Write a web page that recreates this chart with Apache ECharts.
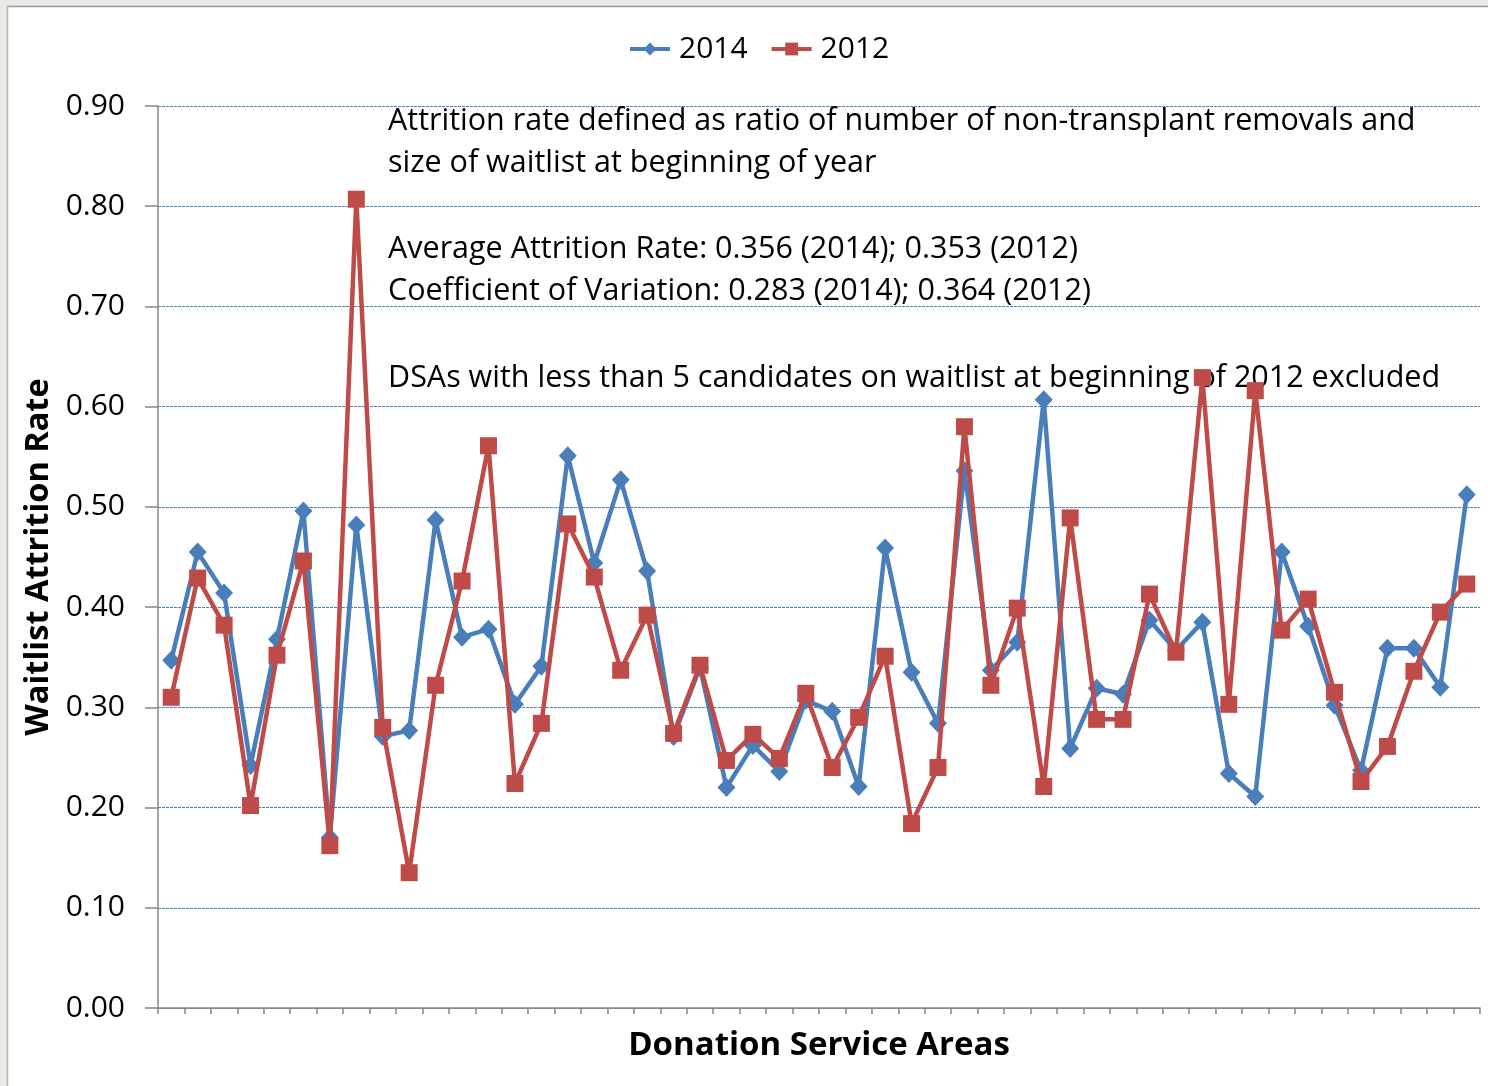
<!DOCTYPE html>
<html>
<head>
<meta charset="utf-8">
<script src="https://cdn.jsdelivr.net/npm/echarts@6/dist/echarts.min.js"></script>
<style>
html,body{margin:0;padding:0;background:#fff;}
#chart{width:1488px;height:1086px;}
</style>
</head>
<body>
<div id="chart"></div>
<script>
const categories = Array.from({length: 50}, (_, i) => 'DSA ' + (i + 1));
const series2014 = [0.347,0.455,0.414,0.242,0.368,0.496,0.170,0.482,0.271,0.277,
  0.487,0.370,0.378,0.303,0.341,0.551,0.444,0.527,0.436,0.271,
  0.340,0.220,0.262,0.236,0.307,0.296,0.221,0.459,0.335,0.284,
  0.536,0.337,0.365,0.607,0.259,0.319,0.313,0.387,0.357,0.385,
  0.234,0.211,0.455,0.381,0.302,0.237,0.359,0.359,0.320,0.512];
const series2012 = [0.310,0.429,0.382,0.202,0.352,0.446,0.162,0.807,0.280,0.135,
  0.322,0.426,0.561,0.224,0.284,0.483,0.430,0.337,0.392,0.274,
  0.342,0.247,0.273,0.249,0.314,0.240,0.290,0.351,0.184,0.240,
  0.580,0.322,0.399,0.221,0.489,0.288,0.288,0.413,0.355,0.629,
  0.303,0.616,0.377,0.408,0.315,0.226,0.261,0.336,0.395,0.423];
const yTicks = [0, 0.1, 0.2, 0.3, 0.4, 0.5, 0.6, 0.7, 0.8, 0.9];
const annotations = [
  'Attrition rate defined as ratio of number of non-transplant removals and',
  'size of waitlist at beginning of year',
  'Average Attrition Rate: 0.356 (2014); 0.353 (2012)',
  'Coefficient of Variation: 0.283 (2014); 0.364 (2012)',
  'DSAs with less than 5 candidates on waitlist at beginning of 2012 excluded'
];
const annotationY = [120, 162, 248, 290, 377];

const FONT = '"Open Sans", "Noto Sans", sans-serif';
const chart = echarts.init(document.getElementById('chart'), null, {renderer: 'canvas'});

const graphics = [
  {type: 'rect', shape: {x: 0, y: 0, width: 1488, height: 6}, style: {fill: '#ebe9e3'}, silent: true},
  {type: 'rect', shape: {x: 0, y: 0, width: 7, height: 1086}, style: {fill: '#ebe9e3'}, silent: true},
  {type: 'line', shape: {x1: 7, y1: 6.5, x2: 1488, y2: 6.5}, style: {stroke: '#9a9a9a', lineWidth: 1.5}, silent: true},
  {type: 'line', shape: {x1: 7.5, y1: 6, x2: 7.5, y2: 1086}, style: {stroke: '#b0b0b0', lineWidth: 1.5}, silent: true}
];
annotations.forEach((t, i) => {
  graphics.push({
    type: 'text', x: 388, y: annotationY[i] + 1, z: 1,
    style: {text: t, font: '30.5px ' + FONT, fill: '#000', textVerticalAlign: 'middle', verticalAlign: 'middle'}
  });
});

chart.setOption({
  animation: false,
  backgroundColor: '#ffffff',
  textStyle: {fontFamily: FONT},
  legend: {
    top: 29, left: 623,
    itemWidth: 40, itemHeight: 16, itemGap: 22,
    textStyle: {fontSize: 30, color: '#000', fontFamily: FONT, padding: [0, 0, 0, 4]},
    data: [
      {name: '2014', lineStyle: {width: 4}},
      {name: '2012', lineStyle: {width: 4}}
    ]
  },
  grid: {left: 158, right: 8, top: 106, bottom: 78, containLabel: false},
  xAxis: {
    type: 'category', data: categories, boundaryGap: true,
    name: 'Donation Service Areas', nameLocation: 'middle', nameGap: 21,
    nameTextStyle: {fontSize: 33, fontWeight: 'bold', color: '#000', fontFamily: FONT},
    axisLine: {lineStyle: {color: '#868686', width: 1.5}},
    axisTick: {show: true, length: 6, interval: 0, lineStyle: {color: '#868686', width: 1.5}},
    axisLabel: {show: false},
    splitLine: {show: false}
  },
  yAxis: {
    type: 'value', min: 0, max: 0.9, interval: 0.1,
    name: 'Waitlist Attrition Rate', nameLocation: 'middle', nameGap: 100, nameRotate: 90,
    nameTextStyle: {fontSize: 32.5, fontWeight: 'bold', color: '#000', fontFamily: FONT},
    axisLine: {show: true, lineStyle: {color: '#868686', width: 1.5}},
    axisTick: {show: true, length: 13, lineStyle: {color: '#868686', width: 1.5}},
    axisLabel: {fontSize: 30, color: '#000', margin: 33, fontFamily: FONT,
      formatter: v => v.toFixed(2)},
    splitLine: {show: true, lineStyle: {color: '#4a7ebb', width: 1, type: [3, 1]}}
  },
  series: [
    {
      name: '2014', type: 'line', data: series2014,
      symbol: 'diamond', symbolSize: [18, 19], showAllSymbol: true,
      itemStyle: {color: '#4a7ebb'},
      lineStyle: {color: '#4a7ebb', width: 4.5}, z: 2
    },
    {
      name: '2012', type: 'line', data: series2012,
      symbol: 'rect', symbolSize: 17, showAllSymbol: true,
      itemStyle: {color: '#be4b48'},
      lineStyle: {color: '#be4b48', width: 4.5}, z: 3
    }
  ],
  graphic: graphics
});
</script>
</body>
</html>
